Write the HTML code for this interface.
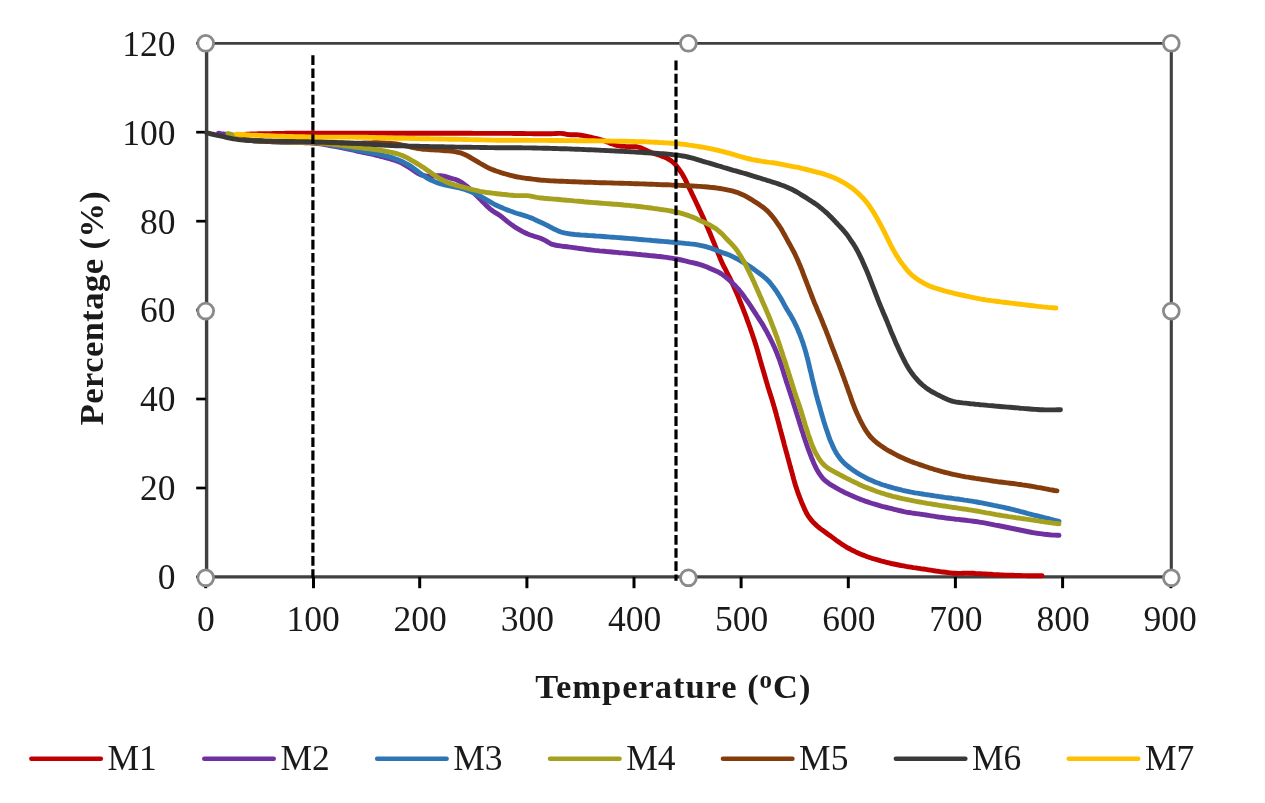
<!DOCTYPE html>
<html><head><meta charset="utf-8"><title>TGA</title>
<style>
html,body{margin:0;padding:0;background:#fff;}
body{width:1265px;height:803px;position:relative;overflow:hidden;font-family:"Liberation Serif",serif;color:#1a1a1a;}
#txt{position:absolute;left:0;top:0;width:1265px;height:803px;opacity:0.999;will-change:opacity;}
.yl{position:absolute;left:75.5px;width:100px;text-align:right;font-size:35.5px;line-height:40px;height:40px;white-space:nowrap;}
.xl{position:absolute;top:599px;width:100px;text-align:center;font-size:35.5px;line-height:40px;height:40px;white-space:nowrap;}
.lg{position:absolute;top:738.3px;font-size:35.5px;line-height:40px;height:40px;white-space:nowrap;}
.xt{position:absolute;left:473.3px;width:400px;top:666px;text-align:center;font-weight:bold;font-size:34.5px;line-height:40px;white-space:nowrap;letter-spacing:0.97px;}
.yt{position:absolute;left:-109px;top:288px;width:400px;height:40px;text-align:center;font-weight:bold;font-size:34.5px;line-height:40px;white-space:nowrap;transform:rotate(-90deg);transform-origin:50% 50%;letter-spacing:0.45px;}
sup.o{font-size:0.72em;vertical-align:baseline;position:relative;top:-0.42em;}
</style></head><body>
<svg width="1265" height="803" viewBox="0 0 1265 803" style="position:absolute;left:0;top:0">
<line x1="205.7" y1="43.4" x2="1171.3" y2="43.4" stroke="#404040" stroke-width="2.9"/>
<line x1="1171.3" y1="43.4" x2="1171.3" y2="576.9" stroke="#404040" stroke-width="3.1"/>
<line x1="206.6" y1="43.4" x2="206.6" y2="578.4" stroke="#404040" stroke-width="3.4"/>
<line x1="205.7" y1="576.8" x2="1171.3" y2="576.8" stroke="#404040" stroke-width="3.2"/>
<line x1="196.2" y1="576.9" x2="205.7" y2="576.9" stroke="#000" stroke-width="2.7"/>
<line x1="196.2" y1="488.0" x2="205.7" y2="488.0" stroke="#000" stroke-width="2.7"/>
<line x1="196.2" y1="399.0" x2="205.7" y2="399.0" stroke="#000" stroke-width="2.7"/>
<line x1="196.2" y1="310.1" x2="205.7" y2="310.1" stroke="#000" stroke-width="2.7"/>
<line x1="196.2" y1="221.2" x2="205.7" y2="221.2" stroke="#000" stroke-width="2.7"/>
<line x1="196.2" y1="132.2" x2="205.7" y2="132.2" stroke="#000" stroke-width="2.7"/>
<line x1="196.2" y1="43.3" x2="205.7" y2="43.3" stroke="#000" stroke-width="2.7"/>
<line x1="205.7" y1="576.9" x2="205.7" y2="588.2" stroke="#000" stroke-width="3"/>
<line x1="313.5" y1="576.9" x2="313.5" y2="588.2" stroke="#000" stroke-width="3"/>
<line x1="419.7" y1="576.9" x2="419.7" y2="588.2" stroke="#000" stroke-width="3"/>
<line x1="526.9" y1="576.9" x2="526.9" y2="588.2" stroke="#000" stroke-width="3"/>
<line x1="634.0" y1="576.9" x2="634.0" y2="588.2" stroke="#000" stroke-width="3"/>
<line x1="741.1" y1="576.9" x2="741.1" y2="588.2" stroke="#000" stroke-width="3"/>
<line x1="848.3" y1="576.9" x2="848.3" y2="588.2" stroke="#000" stroke-width="3"/>
<line x1="955.4" y1="576.9" x2="955.4" y2="588.2" stroke="#000" stroke-width="3"/>
<line x1="1062.6" y1="576.9" x2="1062.6" y2="588.2" stroke="#000" stroke-width="3"/>
<line x1="1170.9" y1="576.9" x2="1170.9" y2="588.2" stroke="#000" stroke-width="3"/>
<path d="M246.0 134.2L248.5 134.1L251.0 134.0L253.5 133.9L256.0 133.9L258.5 133.8L261.0 133.7L263.5 133.7L266.0 133.6L268.5 133.6L271.0 133.6L273.5 133.5L276.0 133.5L278.5 133.4L281.0 133.4L283.5 133.4L286.0 133.3L288.5 133.3L291.0 133.3L293.5 133.3L296.0 133.3L298.5 133.3L301.0 133.3L303.5 133.3L306.0 133.3L308.5 133.3L311.0 133.3L313.5 133.3L316.0 133.3L318.5 133.3L321.0 133.3L323.5 133.3L326.0 133.3L328.5 133.3L331.0 133.3L333.5 133.3L336.0 133.3L338.5 133.3L341.0 133.3L343.5 133.3L346.0 133.3L348.5 133.3L351.0 133.3L353.5 133.3L356.0 133.3L358.5 133.3L361.0 133.3L363.5 133.3L366.0 133.3L368.5 133.3L371.0 133.3L373.5 133.3L376.0 133.3L378.5 133.3L381.0 133.3L383.5 133.3L386.0 133.3L388.5 133.3L391.0 133.3L393.5 133.3L396.0 133.3L398.5 133.3L401.0 133.3L403.5 133.3L406.0 133.3L408.6 133.3L411.1 133.3L413.6 133.3L416.1 133.3L418.6 133.3L421.1 133.3L423.6 133.3L426.1 133.3L428.6 133.3L431.1 133.3L433.6 133.3L436.1 133.3L438.6 133.3L441.1 133.3L443.6 133.3L446.1 133.3L448.6 133.3L451.1 133.3L453.6 133.3L456.1 133.3L458.6 133.3L461.1 133.3L463.6 133.3L466.1 133.3L468.6 133.3L471.1 133.3L473.6 133.4L476.1 133.4L478.6 133.4L481.1 133.4L483.6 133.4L486.1 133.4L488.6 133.4L491.1 133.4L493.6 133.4L496.1 133.4L498.6 133.4L501.1 133.4L503.6 133.4L506.1 133.4L508.6 133.4L511.1 133.4L513.6 133.5L516.1 133.5L518.6 133.5L521.1 133.5L523.6 133.5L526.1 133.6L528.6 133.6L531.1 133.6L533.6 133.7L536.1 133.7L538.6 133.7L541.1 133.7L543.6 133.7L546.1 133.7L548.6 133.7L551.1 133.7L553.6 133.6L556.1 133.5L558.6 133.4L561.1 133.4L563.6 133.7L566.0 134.2L568.5 134.5L571.0 134.7L573.5 134.8L576.0 134.8L578.5 134.9L580.9 135.2L583.4 135.6L585.8 136.1L588.3 136.7L590.7 137.2L593.2 137.8L595.6 138.4L598.0 139.0L600.4 139.6L602.8 140.3L605.2 141.2L607.5 142.1L609.8 143.1L612.1 144.0L614.5 144.8L616.9 145.5L619.3 145.9L621.8 146.2L624.3 146.4L626.8 146.6L629.3 146.7L631.8 146.7L634.3 146.7L636.8 146.8L639.2 147.3L641.6 148.1L643.8 149.2L646.1 150.3L648.3 151.3L650.7 152.3L653.0 153.1L655.4 153.9L657.8 154.7L660.1 155.5L662.5 156.4L664.8 157.3L667.1 158.3L669.2 159.5L671.3 160.9L673.2 162.5L675.0 164.2L676.7 166.1L678.2 168.1L679.6 170.1L681.0 172.2L682.4 174.3L683.6 176.5L684.8 178.7L685.9 180.9L687.0 183.2L688.1 185.4L689.1 187.7L690.2 190.0L691.3 192.2L692.3 194.5L693.4 196.7L694.5 199.0L695.6 201.3L696.6 203.5L697.7 205.8L698.8 208.1L699.8 210.3L700.9 212.6L701.9 214.9L703.0 217.1L704.0 219.4L705.0 221.7L706.0 224.0L707.0 226.3L708.0 228.6L709.0 230.9L710.0 233.2L710.9 235.5L711.9 237.8L712.8 240.1L713.8 242.4L714.7 244.7L715.7 247.1L716.6 249.4L717.5 251.7L718.4 254.0L719.4 256.3L720.3 258.7L721.3 261.0L722.3 263.3L723.3 265.5L724.5 267.7L725.7 269.9L726.8 272.2L727.9 274.4L729.1 276.6L730.2 278.9L731.3 281.1L732.3 283.4L733.4 285.7L734.4 287.9L735.4 290.2L736.4 292.5L737.4 294.8L738.4 297.1L739.3 299.4L740.2 301.8L741.2 304.1L742.1 306.4L743.0 308.7L743.9 311.1L744.8 313.4L745.7 315.7L746.6 318.1L747.4 320.4L748.3 322.8L749.1 325.1L750.0 327.5L750.8 329.9L751.6 332.2L752.4 334.6L753.2 337.0L754.0 339.3L754.8 341.7L755.5 344.1L756.3 346.5L757.0 348.9L757.7 351.3L758.4 353.7L759.1 356.1L759.7 358.5L760.4 360.9L761.1 363.3L761.8 365.7L762.5 368.1L763.2 370.5L763.9 372.9L764.6 375.3L765.3 377.7L766.0 380.1L766.7 382.5L767.4 384.9L768.1 387.3L768.9 389.7L769.6 392.1L770.4 394.5L771.1 396.9L771.9 399.2L772.6 401.6L773.3 404.0L774.0 406.4L774.7 408.8L775.4 411.2L776.1 413.6L776.7 416.1L777.4 418.5L778.0 420.9L778.7 423.3L779.3 425.7L779.9 428.1L780.6 430.6L781.2 433.0L781.9 435.4L782.5 437.8L783.2 440.2L783.8 442.6L784.4 445.1L785.1 447.5L785.7 449.9L786.4 452.3L787.1 454.7L787.7 457.1L788.4 459.5L789.0 462.0L789.7 464.4L790.3 466.8L791.0 469.2L791.7 471.6L792.3 474.0L793.0 476.4L793.6 478.9L794.3 481.3L795.0 483.7L795.7 486.1L796.5 488.4L797.3 490.8L798.1 493.2L799.0 495.5L799.9 497.8L800.8 500.2L801.7 502.5L802.7 504.8L803.7 507.1L804.7 509.4L805.8 511.6L806.9 513.8L808.2 516.0L809.7 518.0L811.2 520.0L812.9 521.9L814.6 523.6L816.4 525.3L818.3 527.0L820.3 528.6L822.3 530.1L824.3 531.5L826.3 533.0L828.3 534.5L830.4 535.9L832.4 537.4L834.4 538.9L836.4 540.4L838.4 541.8L840.5 543.3L842.6 544.7L844.7 546.0L846.8 547.3L849.0 548.5L851.2 549.7L853.4 550.8L855.7 551.9L858.0 552.9L860.3 553.9L862.6 554.9L864.9 555.8L867.3 556.7L869.6 557.5L872.0 558.3L874.4 559.0L876.8 559.7L879.2 560.4L881.6 561.1L884.0 561.7L886.4 562.3L888.9 562.9L891.3 563.5L893.7 564.0L896.2 564.5L898.6 565.0L901.1 565.5L903.6 565.9L906.0 566.4L908.5 566.8L911.0 567.2L913.4 567.6L915.9 567.9L918.4 568.3L920.9 568.7L923.3 569.0L925.8 569.4L928.3 569.8L930.7 570.2L933.2 570.6L935.7 571.0L938.2 571.3L940.6 571.7L943.1 572.0L945.6 572.3L948.1 572.6L950.6 572.9L953.0 573.2L955.5 573.3L958.0 573.4L960.5 573.4L963.0 573.2L965.5 573.1L968.0 573.1L970.5 573.2L973.0 573.3L975.5 573.5L978.0 573.6L980.5 573.7L983.0 573.9L985.5 574.0L988.0 574.2L990.5 574.3L993.0 574.5L995.5 574.6L998.0 574.7L1000.5 574.9L1003.0 575.0L1005.5 575.1L1008.0 575.2L1010.5 575.3L1013.0 575.3L1015.5 575.4L1018.0 575.5L1020.5 575.5L1023.0 575.6L1025.5 575.6L1028.0 575.7L1030.5 575.7L1033.0 575.7L1035.5 575.8L1038.0 575.8L1040.5 575.8L1042.0 575.8" fill="none" stroke="#C00000" stroke-width="4.9" stroke-linecap="round" stroke-linejoin="round"/>
<path d="M218.5 133.2L221.0 133.6L223.4 133.9L225.9 134.4L228.3 135.0L230.7 135.7L233.1 136.4L235.5 137.1L237.9 137.8L240.4 138.4L242.8 139.0L245.2 139.5L247.7 139.9L250.2 140.2L252.7 140.5L255.2 140.7L257.7 140.9L260.2 141.0L262.6 141.2L265.1 141.4L267.6 141.5L270.1 141.6L272.6 141.7L275.1 141.9L277.6 142.0L280.1 142.0L282.6 142.1L285.1 142.2L287.6 142.2L290.1 142.3L292.6 142.3L295.1 142.4L297.6 142.5L300.1 142.5L302.6 142.6L305.1 142.7L307.6 142.7L310.1 142.9L312.6 143.0L315.1 143.2L317.6 143.5L320.1 143.8L322.6 144.2L325.0 144.7L327.5 145.1L329.9 145.6L332.4 146.0L334.9 146.4L337.3 146.9L339.8 147.4L342.2 147.8L344.7 148.3L347.1 148.8L349.6 149.4L352.0 149.9L354.5 150.4L356.9 151.0L359.4 151.5L361.8 152.0L364.2 152.6L366.7 153.1L369.1 153.7L371.6 154.2L374.0 154.7L376.4 155.3L378.9 155.9L381.3 156.5L383.7 157.2L386.1 157.8L388.5 158.4L391.0 159.1L393.3 159.8L395.7 160.6L398.1 161.5L400.4 162.4L402.6 163.6L404.8 164.8L406.9 166.1L409.1 167.4L411.1 168.8L413.2 170.2L415.2 171.6L417.3 173.0L419.5 174.2L421.8 175.1L424.2 175.7L426.7 176.1L429.2 176.2L431.7 176.2L434.2 176.0L436.7 175.8L439.2 175.7L441.6 175.8L444.1 176.2L446.5 176.9L448.9 177.6L451.3 178.3L453.7 179.0L456.1 179.7L458.4 180.6L460.6 181.8L462.7 183.1L464.7 184.6L466.7 186.1L468.6 187.8L470.4 189.5L472.2 191.2L474.0 193.0L475.7 194.8L477.5 196.6L479.2 198.3L481.0 200.1L482.8 201.9L484.5 203.6L486.3 205.4L488.1 207.1L490.0 208.8L491.9 210.4L494.0 211.8L496.1 213.1L498.2 214.4L500.3 215.8L502.3 217.3L504.2 218.9L506.1 220.5L508.1 222.1L510.1 223.6L512.1 225.1L514.1 226.5L516.2 227.9L518.4 229.2L520.5 230.4L522.7 231.6L525.0 232.7L527.2 233.8L529.6 234.7L531.9 235.5L534.3 236.3L536.7 237.0L539.1 237.8L541.4 238.6L543.7 239.7L545.9 240.9L548.0 242.2L550.2 243.4L552.4 244.4L554.9 245.0L557.3 245.5L559.8 245.8L562.3 246.2L564.7 246.5L567.2 246.8L569.7 247.1L572.2 247.4L574.7 247.8L577.1 248.1L579.6 248.5L582.1 248.8L584.6 249.1L587.1 249.5L589.5 249.8L592.0 250.1L594.5 250.4L597.0 250.6L599.5 250.9L602.0 251.1L604.5 251.3L607.0 251.6L609.4 251.8L611.9 252.0L614.4 252.2L616.9 252.4L619.4 252.7L621.9 252.9L624.4 253.1L626.9 253.3L629.4 253.6L631.9 253.8L634.4 254.0L636.8 254.3L639.3 254.5L641.8 254.8L644.3 255.0L646.8 255.2L649.3 255.5L651.8 255.7L654.3 256.0L656.8 256.3L659.2 256.5L661.7 256.8L664.2 257.1L666.7 257.4L669.2 257.8L671.6 258.2L674.1 258.6L676.6 259.0L679.0 259.5L681.5 260.0L683.9 260.6L686.3 261.2L688.8 261.8L691.2 262.3L693.6 262.9L696.1 263.5L698.5 264.1L700.9 264.8L703.2 265.6L705.6 266.5L707.9 267.4L710.2 268.4L712.5 269.4L714.8 270.4L717.1 271.4L719.3 272.6L721.4 273.9L723.4 275.4L725.4 276.9L727.4 278.5L729.3 280.1L731.1 281.8L732.9 283.5L734.7 285.2L736.4 287.1L738.1 288.9L739.7 290.9L741.3 292.8L742.8 294.8L744.3 296.8L745.7 298.8L747.2 300.9L748.6 302.9L750.0 305.0L751.4 307.1L752.7 309.2L754.1 311.3L755.5 313.4L756.8 315.5L758.2 317.6L759.5 319.7L760.9 321.8L762.2 323.9L763.5 326.1L764.7 328.2L766.0 330.4L767.2 332.6L768.3 334.8L769.5 337.0L770.6 339.3L771.7 341.5L772.8 343.8L773.8 346.0L774.9 348.3L775.8 350.6L776.8 352.9L777.7 355.3L778.6 357.6L779.5 359.9L780.3 362.3L781.1 364.7L781.9 367.0L782.6 369.4L783.4 371.8L784.1 374.2L784.8 376.6L785.6 379.0L786.3 381.4L787.1 383.7L787.9 386.1L788.7 388.5L789.5 390.9L790.3 393.2L791.0 395.6L791.8 398.0L792.6 400.4L793.3 402.8L794.1 405.2L794.8 407.5L795.6 409.9L796.3 412.3L797.1 414.7L797.8 417.1L798.6 419.5L799.3 421.9L800.0 424.3L800.8 426.6L801.5 429.0L802.3 431.4L803.1 433.8L803.8 436.2L804.6 438.5L805.4 440.9L806.2 443.3L807.0 445.7L807.8 448.0L808.7 450.4L809.6 452.7L810.5 455.0L811.4 457.4L812.4 459.7L813.3 462.0L814.3 464.3L815.4 466.6L816.5 468.8L817.7 471.0L819.0 473.1L820.4 475.2L821.8 477.2L823.5 479.1L825.3 480.8L827.3 482.3L829.3 483.8L831.4 485.1L833.6 486.4L835.7 487.7L837.9 488.9L840.1 490.1L842.3 491.2L844.5 492.4L846.8 493.4L849.1 494.5L851.4 495.5L853.6 496.5L855.9 497.5L858.3 498.5L860.6 499.4L862.9 500.2L865.3 501.1L867.6 501.9L870.0 502.7L872.4 503.5L874.8 504.2L877.2 504.9L879.6 505.6L882.0 506.3L884.4 506.9L886.8 507.5L889.3 508.1L891.7 508.7L894.1 509.3L896.6 509.9L899.0 510.5L901.4 511.0L903.9 511.6L906.3 512.1L908.8 512.5L911.3 512.9L913.7 513.3L916.2 513.6L918.7 513.9L921.2 514.3L923.6 514.6L926.1 515.0L928.6 515.4L931.0 515.8L933.5 516.2L936.0 516.6L938.5 517.0L940.9 517.3L943.4 517.6L945.9 518.0L948.4 518.3L950.9 518.6L953.3 518.9L955.8 519.2L958.3 519.4L960.8 519.7L963.3 520.0L965.8 520.3L968.3 520.6L970.7 520.9L973.2 521.2L975.7 521.5L978.2 521.9L980.6 522.3L983.1 522.7L985.6 523.1L988.0 523.6L990.5 524.1L992.9 524.6L995.4 525.1L997.8 525.5L1000.3 526.0L1002.7 526.5L1005.2 527.0L1007.6 527.5L1010.1 528.0L1012.5 528.5L1015.0 529.0L1017.4 529.5L1019.9 530.0L1022.3 530.5L1024.8 531.0L1027.2 531.5L1029.7 532.0L1032.2 532.5L1034.6 532.9L1037.1 533.3L1039.6 533.6L1042.1 533.9L1044.5 534.3L1047.0 534.5L1049.5 534.8L1052.0 535.0L1054.5 535.1L1057.0 535.2L1059.0 535.3" fill="none" stroke="#7030A0" stroke-width="4.9" stroke-linecap="round" stroke-linejoin="round"/>
<path d="M230.0 135.0L232.3 136.0L234.6 136.9L237.0 137.7L239.4 138.4L241.8 139.0L244.3 139.5L246.7 139.9L249.2 140.2L251.7 140.4L254.2 140.7L256.7 140.8L259.2 141.0L261.7 141.1L264.2 141.3L266.7 141.4L269.2 141.5L271.7 141.6L274.2 141.7L276.7 141.8L279.2 141.9L281.7 142.0L284.2 142.0L286.7 142.1L289.2 142.2L291.7 142.2L294.2 142.3L296.7 142.3L299.2 142.4L301.7 142.4L304.2 142.5L306.7 142.6L309.2 142.6L311.7 142.8L314.2 142.9L316.7 143.1L319.2 143.2L321.6 143.5L324.1 143.8L326.6 144.2L329.1 144.6L331.5 145.1L334.0 145.5L336.4 146.0L338.9 146.4L341.4 146.9L343.8 147.4L346.3 147.9L348.7 148.4L351.2 148.9L353.6 149.4L356.1 149.9L358.5 150.4L361.0 150.9L363.4 151.4L365.9 151.8L368.3 152.3L370.8 152.8L373.2 153.3L375.7 153.7L378.1 154.2L380.6 154.8L383.0 155.3L385.5 155.9L387.9 156.5L390.3 157.1L392.7 157.9L395.0 158.7L397.4 159.6L399.7 160.5L402.0 161.5L404.2 162.6L406.4 163.8L408.6 165.0L410.7 166.4L412.8 167.8L414.8 169.3L416.8 170.8L418.8 172.3L420.8 173.7L422.9 175.2L424.9 176.6L427.0 178.0L429.2 179.2L431.4 180.3L433.7 181.3L436.0 182.2L438.4 183.1L440.8 183.8L443.2 184.5L445.6 185.0L448.1 185.6L450.5 186.1L453.0 186.6L455.4 187.2L457.8 187.7L460.3 188.2L462.7 188.8L465.1 189.5L467.5 190.4L469.8 191.3L472.1 192.3L474.4 193.3L476.6 194.4L478.8 195.5L481.1 196.7L483.2 197.9L485.4 199.1L487.6 200.4L489.8 201.6L491.9 202.9L494.1 204.1L496.3 205.2L498.6 206.3L500.9 207.3L503.2 208.3L505.5 209.2L507.8 210.1L510.2 211.0L512.5 211.8L514.9 212.7L517.3 213.5L519.7 214.2L522.1 214.9L524.5 215.6L526.8 216.3L529.2 217.2L531.5 218.1L533.8 219.1L536.1 220.2L538.3 221.2L540.6 222.3L542.9 223.3L545.1 224.4L547.4 225.5L549.6 226.7L551.8 227.8L554.0 229.0L556.3 230.0L558.6 231.1L560.9 232.0L563.3 232.7L565.7 233.2L568.2 233.6L570.7 234.0L573.1 234.3L575.6 234.6L578.1 234.8L580.6 235.0L583.1 235.1L585.6 235.3L588.1 235.5L590.6 235.6L593.1 235.8L595.6 236.0L598.1 236.1L600.6 236.3L603.1 236.5L605.6 236.7L608.1 236.9L610.5 237.1L613.0 237.2L615.5 237.4L618.0 237.6L620.5 237.8L623.0 238.0L625.5 238.2L628.0 238.4L630.5 238.6L633.0 238.8L635.5 239.0L638.0 239.3L640.5 239.5L643.0 239.7L645.4 239.9L647.9 240.1L650.4 240.3L652.9 240.6L655.4 240.8L657.9 241.0L660.4 241.2L662.9 241.4L665.4 241.6L667.9 241.8L670.4 242.1L672.8 242.3L675.3 242.5L677.8 242.7L680.3 242.9L682.8 243.1L685.3 243.4L687.8 243.6L690.3 243.9L692.8 244.1L695.2 244.4L697.7 244.8L700.2 245.3L702.6 245.8L705.0 246.4L707.5 247.1L709.8 247.8L712.2 248.6L714.5 249.5L716.9 250.4L719.2 251.4L721.5 252.2L723.9 253.1L726.2 253.9L728.6 254.8L730.9 255.8L733.1 256.9L735.4 258.0L737.6 259.1L739.8 260.3L741.9 261.6L744.1 262.9L746.2 264.2L748.3 265.5L750.4 266.9L752.5 268.3L754.5 269.8L756.5 271.2L758.6 272.7L760.6 274.2L762.5 275.7L764.5 277.3L766.4 278.9L768.2 280.7L769.8 282.5L771.4 284.5L772.9 286.4L774.4 288.5L775.9 290.5L777.3 292.6L778.6 294.7L779.9 296.8L781.2 299.0L782.4 301.2L783.6 303.4L784.8 305.6L786.0 307.7L787.3 309.9L788.6 312.0L789.9 314.1L791.2 316.3L792.4 318.5L793.6 320.7L794.7 322.9L795.8 325.1L796.9 327.4L797.9 329.7L798.8 332.0L799.8 334.3L800.7 336.7L801.5 339.0L802.4 341.4L803.2 343.7L803.9 346.1L804.7 348.5L805.4 350.9L806.1 353.3L806.7 355.7L807.4 358.1L808.0 360.6L808.6 363.0L809.1 365.4L809.7 367.9L810.3 370.3L810.9 372.7L811.5 375.2L812.0 377.6L812.6 380.0L813.2 382.4L813.8 384.9L814.4 387.3L815.0 389.7L815.6 392.2L816.2 394.6L816.9 397.0L817.5 399.4L818.2 401.8L818.9 404.2L819.6 406.6L820.3 409.0L820.9 411.4L821.6 413.8L822.3 416.2L823.0 418.6L823.7 421.0L824.5 423.4L825.2 425.8L826.0 428.2L826.8 430.6L827.6 432.9L828.4 435.3L829.2 437.7L830.1 440.0L831.1 442.3L832.1 444.6L833.1 446.9L834.2 449.1L835.4 451.3L836.6 453.5L838.0 455.6L839.4 457.7L841.0 459.6L842.6 461.5L844.4 463.2L846.2 464.9L848.2 466.5L850.1 468.0L852.2 469.5L854.2 470.9L856.3 472.3L858.4 473.6L860.6 474.9L862.8 476.1L865.0 477.3L867.2 478.5L869.4 479.6L871.7 480.6L874.0 481.6L876.3 482.5L878.7 483.3L881.0 484.2L883.4 485.0L885.8 485.7L888.2 486.5L890.6 487.1L893.0 487.8L895.4 488.5L897.8 489.1L900.3 489.7L902.7 490.3L905.1 490.8L907.6 491.3L910.0 491.9L912.5 492.3L914.9 492.8L917.4 493.2L919.9 493.6L922.3 494.0L924.8 494.4L927.3 494.7L929.8 495.1L932.2 495.5L934.7 495.9L937.2 496.2L939.6 496.6L942.1 497.0L944.6 497.4L947.1 497.7L949.5 498.0L952.0 498.3L954.5 498.7L957.0 499.0L959.5 499.3L961.9 499.7L964.4 500.1L966.9 500.4L969.4 500.8L971.8 501.2L974.3 501.6L976.8 502.0L979.2 502.5L981.7 502.9L984.1 503.4L986.6 503.9L989.0 504.4L991.5 504.9L993.9 505.4L996.4 505.8L998.8 506.4L1001.3 506.9L1003.7 507.4L1006.2 508.0L1008.6 508.5L1011.0 509.1L1013.5 509.7L1015.9 510.3L1018.3 510.9L1020.7 511.6L1023.1 512.2L1025.6 512.9L1028.0 513.6L1030.4 514.2L1032.8 514.8L1035.2 515.4L1037.7 516.0L1040.1 516.6L1042.5 517.2L1044.9 517.8L1047.4 518.4L1049.8 519.0L1052.2 519.7L1054.6 520.3L1057.1 520.9L1059.0 521.4" fill="none" stroke="#2E75B6" stroke-width="4.9" stroke-linecap="round" stroke-linejoin="round"/>
<path d="M228.0 133.6L230.4 134.2L232.8 134.9L235.2 135.7L237.6 136.5L239.9 137.4L242.3 138.2L244.7 138.9L247.1 139.4L249.6 139.9L252.0 140.3L254.5 140.6L257.0 140.9L259.5 141.1L262.0 141.3L264.5 141.5L267.0 141.6L269.5 141.6L272.0 141.7L274.5 141.8L277.0 141.8L279.5 141.9L282.0 141.9L284.5 142.0L287.0 142.1L289.5 142.1L292.0 142.2L294.5 142.2L297.0 142.3L299.5 142.3L302.0 142.4L304.5 142.4L307.0 142.5L309.5 142.6L311.9 142.7L314.4 142.8L316.9 142.9L319.4 143.0L321.9 143.2L324.4 143.4L326.9 143.7L329.4 143.9L331.9 144.2L334.4 144.5L336.9 144.8L339.3 145.1L341.8 145.4L344.3 145.7L346.8 146.0L349.3 146.3L351.7 146.6L354.2 147.0L356.7 147.3L359.2 147.6L361.7 147.9L364.1 148.2L366.6 148.5L369.1 148.8L371.6 149.1L374.1 149.5L376.5 149.8L379.0 150.1L381.5 150.5L384.0 150.9L386.4 151.3L388.9 151.8L391.3 152.3L393.8 152.9L396.2 153.5L398.6 154.2L400.9 155.0L403.3 155.9L405.5 156.9L407.8 158.1L409.9 159.3L412.1 160.6L414.3 161.8L416.4 163.1L418.5 164.4L420.6 165.8L422.8 167.1L424.8 168.5L426.9 169.9L428.9 171.3L431.0 172.8L433.0 174.2L435.1 175.6L437.2 177.0L439.3 178.3L441.5 179.5L443.7 180.6L446.0 181.7L448.3 182.7L450.6 183.6L453.0 184.4L455.4 185.2L457.8 185.8L460.2 186.4L462.6 187.0L465.0 187.7L467.5 188.3L469.9 189.0L472.3 189.6L474.7 190.2L477.2 190.7L479.6 191.3L482.1 191.7L484.5 192.1L487.0 192.5L489.5 192.8L492.0 193.1L494.4 193.4L496.9 193.7L499.4 194.0L501.9 194.3L504.4 194.5L506.9 194.8L509.4 195.1L511.8 195.3L514.3 195.5L516.8 195.6L519.3 195.6L521.8 195.6L524.3 195.6L526.8 195.6L529.3 195.9L531.8 196.3L534.2 196.8L536.7 197.3L539.1 197.7L541.6 198.0L544.1 198.3L546.6 198.5L549.1 198.7L551.6 198.9L554.1 199.1L556.5 199.3L559.0 199.5L561.5 199.8L564.0 200.0L566.5 200.2L569.0 200.4L571.5 200.6L574.0 200.9L576.5 201.1L579.0 201.3L581.5 201.5L583.9 201.8L586.4 202.0L588.9 202.2L591.4 202.4L593.9 202.6L596.4 202.8L598.9 203.0L601.4 203.2L603.9 203.4L606.4 203.6L608.9 203.8L611.4 204.0L613.9 204.2L616.3 204.3L618.8 204.5L621.3 204.7L623.8 205.0L626.3 205.2L628.8 205.4L631.3 205.7L633.8 205.9L636.3 206.2L638.7 206.5L641.2 206.8L643.7 207.1L646.2 207.4L648.7 207.7L651.1 208.0L653.6 208.4L656.1 208.7L658.6 209.1L661.0 209.5L663.5 209.8L666.0 210.2L668.5 210.6L670.9 211.0L673.4 211.5L675.8 212.0L678.3 212.5L680.7 213.1L683.1 213.8L685.5 214.6L687.9 215.4L690.2 216.2L692.5 217.1L694.8 218.1L697.1 219.1L699.4 220.2L701.6 221.2L703.9 222.3L706.2 223.3L708.5 224.4L710.7 225.5L712.8 226.8L714.9 228.1L717.0 229.6L718.9 231.1L720.8 232.8L722.6 234.5L724.3 236.4L726.0 238.2L727.7 240.0L729.4 241.8L731.2 243.6L732.9 245.4L734.6 247.3L736.1 249.2L737.6 251.3L738.9 253.4L740.3 255.5L741.6 257.6L742.8 259.8L744.1 261.9L745.2 264.1L746.4 266.4L747.5 268.6L748.6 270.8L749.7 273.1L750.8 275.3L751.9 277.6L752.9 279.9L754.0 282.1L755.0 284.4L756.0 286.7L757.0 289.0L758.0 291.3L759.0 293.6L760.0 295.9L761.0 298.1L762.0 300.4L763.0 302.7L764.0 305.0L765.0 307.3L766.0 309.6L767.0 311.9L768.0 314.2L768.9 316.5L769.9 318.8L770.8 321.2L771.7 323.5L772.6 325.8L773.5 328.2L774.4 330.5L775.3 332.8L776.1 335.2L777.0 337.5L777.8 339.9L778.6 342.3L779.4 344.6L780.2 347.0L781.0 349.4L781.8 351.7L782.6 354.1L783.3 356.5L784.1 358.9L784.9 361.3L785.7 363.6L786.4 366.0L787.2 368.4L788.0 370.8L788.7 373.2L789.5 375.5L790.2 377.9L791.0 380.3L791.7 382.7L792.5 385.1L793.2 387.5L794.0 389.9L794.7 392.2L795.5 394.6L796.3 397.0L797.1 399.3L797.9 401.7L798.7 404.1L799.5 406.4L800.3 408.8L801.1 411.2L801.8 413.6L802.6 416.0L803.3 418.4L804.0 420.8L804.7 423.2L805.4 425.5L806.2 427.9L807.0 430.3L807.7 432.7L808.5 435.1L809.4 437.4L810.2 439.8L811.0 442.1L811.9 444.5L812.8 446.8L813.8 449.1L814.8 451.4L816.0 453.6L817.3 455.7L818.5 457.9L819.9 460.0L821.4 462.0L823.0 463.9L824.8 465.6L826.7 467.2L828.7 468.6L830.9 469.9L833.1 471.1L835.3 472.3L837.5 473.5L839.7 474.7L841.9 475.8L844.1 477.0L846.3 478.1L848.6 479.2L850.8 480.4L853.1 481.5L855.3 482.6L857.6 483.6L859.8 484.7L862.1 485.7L864.4 486.7L866.7 487.6L869.1 488.5L871.4 489.4L873.7 490.3L876.1 491.2L878.4 492.0L880.8 492.8L883.2 493.5L885.6 494.3L888.0 495.0L890.4 495.6L892.8 496.3L895.2 496.9L897.7 497.5L900.1 498.1L902.5 498.7L905.0 499.2L907.4 499.7L909.9 500.2L912.3 500.7L914.8 501.2L917.2 501.6L919.7 502.0L922.2 502.4L924.6 502.8L927.1 503.3L929.6 503.7L932.0 504.1L934.5 504.5L937.0 504.9L939.4 505.3L941.9 505.7L944.4 506.0L946.8 506.4L949.3 506.8L951.8 507.2L954.3 507.5L956.7 507.9L959.2 508.3L961.7 508.7L964.2 509.0L966.6 509.4L969.1 509.8L971.6 510.2L974.0 510.6L976.5 511.0L979.0 511.4L981.4 511.9L983.9 512.3L986.3 512.8L988.8 513.2L991.3 513.7L993.7 514.1L996.2 514.6L998.6 515.0L1001.1 515.4L1003.6 515.8L1006.0 516.2L1008.5 516.6L1011.0 516.9L1013.5 517.3L1015.9 517.7L1018.4 518.0L1020.9 518.4L1023.4 518.7L1025.8 519.1L1028.3 519.4L1030.8 519.8L1033.3 520.2L1035.7 520.6L1038.2 520.9L1040.7 521.3L1043.1 521.7L1045.6 522.1L1048.1 522.4L1050.6 522.7L1053.0 523.1L1055.5 523.4L1058.0 523.7L1059.0 523.8" fill="none" stroke="#A5A01E" stroke-width="4.9" stroke-linecap="round" stroke-linejoin="round"/>
<path d="M244.0 139.6L246.5 139.9L249.0 140.1L251.5 140.4L253.9 140.7L256.4 140.9L258.9 141.1L261.4 141.3L263.9 141.4L266.4 141.5L268.9 141.5L271.4 141.5L273.9 141.6L276.4 141.6L278.9 141.6L281.4 141.7L283.9 141.7L286.4 141.7L288.9 141.8L291.4 141.8L293.9 141.8L296.4 141.8L298.9 141.9L301.4 141.9L303.9 141.9L306.4 142.0L308.9 142.0L311.4 142.1L313.9 142.1L316.4 142.2L318.9 142.3L321.4 142.3L323.9 142.4L326.4 142.5L328.9 142.6L331.4 142.7L333.9 142.8L336.4 142.9L338.9 142.9L341.4 143.0L343.9 143.1L346.4 143.1L348.9 143.2L351.4 143.2L353.9 143.2L356.4 143.2L358.9 143.2L361.4 143.1L363.9 143.0L366.4 143.0L368.9 142.9L371.4 142.9L373.9 142.8L376.4 142.8L378.9 142.8L381.4 142.9L383.9 143.0L386.4 143.1L388.9 143.3L391.4 143.5L393.9 143.7L396.4 144.0L398.8 144.4L401.3 144.8L403.7 145.3L406.2 145.8L408.6 146.4L411.0 147.1L413.4 147.7L415.9 148.2L418.3 148.6L420.8 148.9L423.3 149.2L425.8 149.4L428.3 149.5L430.8 149.7L433.3 149.8L435.8 150.0L438.3 150.1L440.8 150.3L443.3 150.5L445.8 150.7L448.3 150.9L450.7 151.1L453.2 151.4L455.7 151.8L458.1 152.3L460.6 152.9L462.9 153.7L465.2 154.7L467.5 155.8L469.6 157.0L471.8 158.3L473.9 159.6L476.1 160.9L478.2 162.2L480.4 163.5L482.5 164.7L484.7 165.9L486.9 167.1L489.2 168.2L491.5 169.2L493.8 170.1L496.1 171.0L498.5 171.8L500.9 172.6L503.3 173.3L505.7 174.0L508.1 174.7L510.5 175.3L512.9 175.9L515.3 176.5L517.8 177.0L520.2 177.4L522.7 177.8L525.2 178.2L527.7 178.5L530.2 178.8L532.6 179.1L535.1 179.4L537.6 179.7L540.1 180.0L542.6 180.2L545.1 180.4L547.6 180.6L550.1 180.8L552.6 180.9L555.0 181.0L557.5 181.1L560.0 181.2L562.5 181.3L565.0 181.4L567.5 181.5L570.0 181.6L572.5 181.7L575.0 181.8L577.5 181.9L580.0 182.0L582.5 182.1L585.0 182.2L587.5 182.2L590.0 182.3L592.5 182.4L595.0 182.5L597.5 182.6L600.0 182.7L602.5 182.7L605.0 182.8L607.5 182.9L610.0 182.9L612.5 183.0L615.0 183.1L617.5 183.1L620.0 183.2L622.5 183.3L625.0 183.4L627.5 183.4L630.0 183.5L632.5 183.6L635.0 183.7L637.5 183.8L640.0 183.9L642.5 183.9L645.0 184.0L647.5 184.1L650.0 184.2L652.5 184.3L655.0 184.4L657.5 184.5L660.0 184.6L662.5 184.7L665.0 184.8L667.5 184.8L670.0 184.9L672.5 185.1L675.0 185.2L677.5 185.3L680.0 185.4L682.5 185.5L685.0 185.6L687.5 185.7L690.0 185.9L692.5 186.0L695.0 186.1L697.5 186.3L700.0 186.4L702.5 186.6L704.9 186.8L707.4 187.0L709.9 187.3L712.4 187.5L714.9 187.8L717.4 188.1L719.9 188.5L722.3 188.9L724.8 189.3L727.2 189.8L729.7 190.3L732.1 190.9L734.5 191.6L736.9 192.3L739.2 193.2L741.5 194.2L743.8 195.2L746.0 196.4L748.2 197.6L750.3 198.9L752.5 200.2L754.6 201.6L756.7 202.9L758.8 204.3L760.8 205.7L762.9 207.1L764.8 208.7L766.7 210.3L768.5 212.1L770.2 213.9L771.8 215.8L773.4 217.8L774.9 219.7L776.4 221.8L777.8 223.8L779.2 225.9L780.6 228.0L781.9 230.1L783.1 232.3L784.3 234.5L785.5 236.7L786.7 238.9L787.9 241.1L789.1 243.2L790.3 245.4L791.5 247.6L792.7 249.8L793.9 252.0L795.0 254.3L796.0 256.5L797.1 258.8L798.1 261.1L799.1 263.4L800.1 265.7L801.0 268.0L802.0 270.3L802.8 272.7L803.7 275.0L804.6 277.3L805.5 279.7L806.4 282.0L807.3 284.3L808.2 286.7L809.1 289.0L810.0 291.3L810.9 293.7L811.8 296.0L812.7 298.4L813.6 300.7L814.5 303.0L815.5 305.3L816.5 307.6L817.4 309.9L818.4 312.2L819.4 314.5L820.4 316.8L821.3 319.1L822.3 321.4L823.2 323.8L824.1 326.1L825.1 328.4L826.0 330.7L826.9 333.1L827.8 335.4L828.7 337.7L829.6 340.1L830.4 342.4L831.3 344.7L832.2 347.1L833.1 349.4L834.0 351.7L834.9 354.1L835.8 356.4L836.7 358.8L837.6 361.1L838.5 363.4L839.4 365.8L840.2 368.1L841.1 370.4L842.0 372.8L842.8 375.1L843.7 377.5L844.5 379.8L845.4 382.2L846.2 384.5L847.1 386.9L847.9 389.3L848.7 391.6L849.6 394.0L850.4 396.3L851.2 398.7L852.0 401.1L852.9 403.4L853.8 405.7L854.7 408.1L855.7 410.4L856.7 412.7L857.7 414.9L858.8 417.2L859.8 419.5L860.9 421.7L862.1 423.9L863.3 426.1L864.5 428.3L865.8 430.4L867.2 432.5L868.7 434.5L870.2 436.5L871.9 438.3L873.7 440.1L875.6 441.7L877.5 443.3L879.5 444.8L881.6 446.2L883.6 447.6L885.7 449.0L887.9 450.3L890.1 451.5L892.2 452.7L894.4 453.9L896.7 455.1L898.9 456.2L901.1 457.3L903.4 458.3L905.7 459.4L908.0 460.3L910.3 461.3L912.7 462.1L915.0 463.0L917.4 463.8L919.7 464.6L922.1 465.4L924.5 466.2L926.9 467.0L929.2 467.8L931.6 468.5L934.0 469.3L936.4 470.0L938.8 470.7L941.2 471.3L943.6 472.0L946.0 472.6L948.5 473.2L950.9 473.8L953.3 474.4L955.8 474.9L958.2 475.4L960.7 475.9L963.1 476.3L965.6 476.8L968.1 477.2L970.5 477.6L973.0 478.0L975.5 478.4L977.9 478.7L980.4 479.1L982.9 479.5L985.4 479.8L987.8 480.2L990.3 480.6L992.8 481.0L995.2 481.3L997.7 481.7L1000.2 482.0L1002.7 482.3L1005.2 482.6L1007.6 482.9L1010.1 483.2L1012.6 483.5L1015.1 483.8L1017.6 484.2L1020.1 484.5L1022.5 484.9L1025.0 485.2L1027.5 485.6L1029.9 486.0L1032.4 486.4L1034.9 486.8L1037.3 487.3L1039.8 487.7L1042.2 488.2L1044.7 488.7L1047.2 489.1L1049.6 489.6L1052.1 490.0L1054.5 490.5L1057.0 490.9" fill="none" stroke="#843C0C" stroke-width="4.9" stroke-linecap="round" stroke-linejoin="round"/>
<path d="M206.6 132.8L209.0 133.4L211.5 134.0L213.9 134.5L216.3 135.1L218.8 135.7L221.2 136.2L223.7 136.7L226.1 137.3L228.5 137.8L231.0 138.3L233.4 138.8L235.9 139.2L238.4 139.6L240.9 139.9L243.3 140.1L245.8 140.3L248.3 140.5L250.8 140.6L253.3 140.7L255.8 140.7L258.3 140.8L260.8 140.8L263.3 140.9L265.8 141.0L268.3 141.0L270.8 141.0L273.3 141.1L275.8 141.1L278.3 141.1L280.8 141.1L283.3 141.1L285.8 141.2L288.3 141.2L290.8 141.2L293.3 141.3L295.8 141.3L298.3 141.3L300.8 141.4L303.3 141.4L305.8 141.5L308.3 141.5L310.8 141.6L313.3 141.6L315.8 141.7L318.3 141.8L320.8 141.8L323.3 141.9L325.8 142.0L328.3 142.1L330.8 142.2L333.3 142.3L335.8 142.4L338.3 142.6L340.8 142.7L343.3 142.8L345.8 142.9L348.3 143.0L350.8 143.1L353.3 143.3L355.8 143.4L358.3 143.5L360.8 143.6L363.3 143.8L365.8 144.0L368.3 144.1L370.8 144.3L373.3 144.5L375.7 144.7L378.2 144.8L380.7 145.0L383.2 145.1L385.7 145.3L388.2 145.4L390.7 145.5L393.2 145.6L395.7 145.7L398.2 145.8L400.7 145.8L403.2 145.9L405.7 146.0L408.2 146.1L410.7 146.1L413.2 146.2L415.7 146.2L418.2 146.3L420.7 146.4L423.2 146.4L425.7 146.5L428.2 146.5L430.7 146.6L433.2 146.6L435.7 146.7L438.2 146.7L440.7 146.8L443.2 146.8L445.7 146.9L448.2 146.9L450.7 147.0L453.2 147.0L455.7 147.1L458.2 147.1L460.7 147.2L463.2 147.2L465.7 147.3L468.2 147.3L470.7 147.3L473.2 147.4L475.7 147.4L478.2 147.4L480.7 147.5L483.2 147.5L485.7 147.5L488.2 147.6L490.7 147.6L493.2 147.6L495.7 147.7L498.2 147.7L500.7 147.7L503.2 147.7L505.7 147.8L508.2 147.8L510.7 147.8L513.2 147.8L515.7 147.8L518.2 147.8L520.7 147.8L523.2 147.9L525.7 147.9L528.2 147.9L530.7 147.9L533.2 148.0L535.7 148.0L538.2 148.1L540.7 148.1L543.2 148.2L545.7 148.2L548.2 148.3L550.7 148.4L553.2 148.5L555.7 148.5L558.2 148.6L560.7 148.7L563.2 148.8L565.7 148.8L568.2 148.9L570.7 149.0L573.2 149.1L575.7 149.2L578.2 149.3L580.7 149.4L583.2 149.5L585.7 149.6L588.2 149.7L590.7 149.8L593.2 149.9L595.7 150.0L598.2 150.1L600.7 150.3L603.2 150.4L605.7 150.5L608.2 150.6L610.7 150.7L613.2 150.9L615.7 151.0L618.1 151.1L620.6 151.2L623.1 151.4L625.6 151.5L628.1 151.6L630.6 151.8L633.1 151.9L635.6 152.1L638.1 152.2L640.6 152.4L643.1 152.5L645.6 152.7L648.1 152.8L650.6 153.0L653.1 153.1L655.6 153.3L658.1 153.5L660.6 153.7L663.1 153.8L665.6 154.0L668.1 154.2L670.5 154.4L673.0 154.7L675.5 154.9L678.0 155.2L680.5 155.6L682.9 156.0L685.4 156.4L687.8 157.0L690.3 157.6L692.7 158.2L695.1 158.9L697.5 159.6L699.9 160.3L702.3 161.1L704.7 161.8L707.1 162.5L709.5 163.2L711.9 163.9L714.3 164.6L716.7 165.3L719.0 166.0L721.4 166.7L723.8 167.5L726.2 168.2L728.6 168.9L731.0 169.6L733.4 170.3L735.8 170.9L738.2 171.6L740.7 172.3L743.1 173.0L745.5 173.7L747.9 174.4L750.2 175.1L752.6 175.9L755.0 176.6L757.4 177.3L759.8 178.0L762.2 178.8L764.6 179.5L767.0 180.3L769.4 181.0L771.8 181.8L774.1 182.5L776.5 183.3L778.9 184.1L781.2 185.0L783.6 185.8L785.9 186.7L788.2 187.7L790.5 188.7L792.8 189.8L795.0 191.0L797.1 192.2L799.3 193.5L801.4 194.8L803.5 196.1L805.6 197.4L807.7 198.8L809.8 200.2L811.9 201.5L814.0 202.9L816.1 204.3L818.1 205.7L820.1 207.3L822.0 208.9L823.9 210.5L825.8 212.1L827.6 213.8L829.4 215.6L831.2 217.3L832.9 219.1L834.7 220.9L836.4 222.8L838.1 224.6L839.8 226.4L841.5 228.2L843.2 230.1L844.8 232.0L846.4 233.9L847.9 235.9L849.3 238.0L850.7 240.1L852.1 242.1L853.5 244.2L854.8 246.3L856.1 248.5L857.3 250.7L858.5 252.9L859.6 255.1L860.7 257.4L861.8 259.6L862.8 261.9L863.8 264.2L864.8 266.5L865.8 268.8L866.8 271.1L867.8 273.4L868.7 275.7L869.6 278.0L870.5 280.3L871.4 282.7L872.3 285.0L873.2 287.3L874.1 289.7L875.0 292.0L875.9 294.3L876.8 296.7L877.7 299.0L878.6 301.3L879.6 303.7L880.5 306.0L881.5 308.3L882.4 310.6L883.4 312.9L884.4 315.2L885.4 317.5L886.3 319.8L887.3 322.1L888.2 324.4L889.2 326.7L890.1 329.1L891.0 331.4L892.0 333.7L893.0 336.0L894.0 338.3L894.9 340.6L895.9 342.9L896.9 345.2L898.0 347.4L899.0 349.7L900.0 352.0L901.1 354.2L902.2 356.5L903.3 358.7L904.5 361.0L905.6 363.2L906.9 365.4L908.1 367.5L909.4 369.6L910.8 371.7L912.3 373.7L913.8 375.7L915.4 377.7L917.0 379.5L918.7 381.4L920.5 383.1L922.3 384.8L924.3 386.4L926.2 388.0L928.3 389.4L930.4 390.8L932.5 392.0L934.7 393.2L936.9 394.4L939.2 395.5L941.4 396.6L943.7 397.7L945.9 398.7L948.2 399.7L950.6 400.6L952.9 401.4L955.4 401.9L957.8 402.3L960.3 402.6L962.8 402.9L965.3 403.1L967.8 403.4L970.3 403.7L972.8 403.9L975.2 404.2L977.7 404.4L980.2 404.7L982.7 404.9L985.2 405.1L987.7 405.4L990.2 405.6L992.7 405.8L995.2 406.1L997.6 406.3L1000.1 406.5L1002.6 406.7L1005.1 406.9L1007.6 407.1L1010.1 407.3L1012.6 407.5L1015.1 407.7L1017.6 407.9L1020.1 408.2L1022.6 408.4L1025.0 408.6L1027.5 408.8L1030.0 409.0L1032.5 409.2L1035.0 409.4L1037.5 409.5L1040.0 409.7L1042.5 409.8L1045.0 409.9L1047.5 409.9L1050.0 409.9L1052.5 409.9L1055.0 409.9L1057.5 409.8L1060.0 409.8L1060.5 409.8" fill="none" stroke="#3B3838" stroke-width="4.9" stroke-linecap="round" stroke-linejoin="round"/>
<path d="M236.6 134.1L239.1 134.3L241.6 134.4L244.1 134.6L246.6 134.8L249.1 134.9L251.6 135.1L254.1 135.2L256.6 135.3L259.1 135.4L261.6 135.5L264.1 135.6L266.6 135.7L269.1 135.8L271.6 135.9L274.1 136.0L276.6 136.1L279.1 136.2L281.6 136.2L284.1 136.3L286.6 136.4L289.1 136.5L291.6 136.5L294.1 136.6L296.6 136.7L299.1 136.7L301.6 136.8L304.1 136.8L306.6 136.9L309.1 136.9L311.6 137.0L314.1 137.0L316.6 137.1L319.1 137.1L321.6 137.1L324.1 137.1L326.6 137.1L329.1 137.1L331.6 137.1L334.1 137.1L336.6 137.1L339.1 137.1L341.6 137.1L344.1 137.1L346.6 137.1L349.1 137.1L351.6 137.1L354.1 137.1L356.6 137.2L359.1 137.2L361.6 137.2L364.1 137.3L366.6 137.3L369.1 137.4L371.6 137.4L374.1 137.5L376.6 137.6L379.1 137.7L381.6 137.7L384.1 137.8L386.6 137.9L389.1 138.0L391.6 138.0L394.1 138.1L396.6 138.2L399.1 138.2L401.6 138.3L404.1 138.3L406.6 138.4L409.1 138.4L411.6 138.5L414.1 138.5L416.6 138.6L419.1 138.6L421.6 138.7L424.1 138.7L426.6 138.8L429.1 138.8L431.6 138.9L434.1 138.9L436.6 138.9L439.1 139.0L441.6 139.0L444.1 139.1L446.6 139.1L449.1 139.2L451.6 139.2L454.1 139.3L456.6 139.3L459.1 139.4L461.6 139.4L464.1 139.5L466.6 139.5L469.1 139.6L471.6 139.6L474.1 139.7L476.6 139.7L479.1 139.8L481.6 139.9L484.1 139.9L486.6 140.0L489.1 140.0L491.6 140.1L494.1 140.1L496.6 140.2L499.1 140.2L501.6 140.2L504.1 140.2L506.6 140.3L509.1 140.3L511.6 140.3L514.1 140.3L516.6 140.3L519.1 140.3L521.6 140.3L524.1 140.3L526.6 140.3L529.1 140.4L531.6 140.4L534.1 140.4L536.7 140.4L539.2 140.4L541.7 140.4L544.2 140.4L546.7 140.4L549.2 140.5L551.7 140.5L554.2 140.5L556.7 140.5L559.2 140.5L561.7 140.5L564.2 140.6L566.7 140.6L569.2 140.6L571.7 140.6L574.2 140.6L576.7 140.7L579.2 140.7L581.7 140.7L584.2 140.7L586.7 140.8L589.2 140.8L591.7 140.8L594.2 140.8L596.7 140.9L599.2 140.9L601.7 140.9L604.2 141.0L606.7 141.0L609.2 141.0L611.7 141.1L614.2 141.1L616.7 141.2L619.2 141.2L621.7 141.2L624.2 141.3L626.7 141.3L629.2 141.4L631.7 141.4L634.2 141.5L636.7 141.6L639.2 141.6L641.7 141.7L644.2 141.8L646.7 141.9L649.2 142.0L651.7 142.1L654.2 142.2L656.7 142.3L659.2 142.5L661.7 142.6L664.2 142.8L666.7 142.9L669.2 143.1L671.7 143.2L674.2 143.4L676.7 143.6L679.1 143.8L681.6 144.1L684.1 144.4L686.6 144.7L689.1 145.1L691.5 145.4L694.0 145.8L696.5 146.2L699.0 146.6L701.4 147.0L703.9 147.4L706.3 147.9L708.8 148.4L711.3 148.9L713.7 149.4L716.1 149.9L718.6 150.5L721.0 151.1L723.4 151.7L725.8 152.4L728.3 153.0L730.7 153.7L733.1 154.4L735.5 155.1L737.9 155.8L740.3 156.5L742.7 157.2L745.1 157.8L747.5 158.5L749.9 159.0L752.4 159.6L754.8 160.0L757.3 160.5L759.8 160.9L762.2 161.4L764.7 161.7L767.2 162.1L769.7 162.4L772.2 162.6L774.6 163.0L777.1 163.4L779.5 163.9L782.0 164.4L784.4 164.9L786.9 165.4L789.4 165.9L791.8 166.4L794.3 166.8L796.7 167.2L799.2 167.7L801.6 168.3L804.0 168.9L806.5 169.5L808.9 170.1L811.3 170.7L813.7 171.3L816.2 172.0L818.6 172.6L821.0 173.2L823.4 173.9L825.8 174.7L828.2 175.5L830.5 176.4L832.8 177.3L835.1 178.3L837.4 179.3L839.6 180.4L841.8 181.6L844.0 182.8L846.2 184.1L848.3 185.5L850.3 186.9L852.4 188.3L854.3 189.9L856.2 191.5L858.1 193.2L859.9 194.9L861.7 196.7L863.4 198.5L865.0 200.4L866.6 202.3L868.1 204.3L869.6 206.3L871.0 208.4L872.4 210.5L873.7 212.6L875.0 214.7L876.3 216.9L877.5 219.1L878.7 221.3L879.9 223.5L881.1 225.7L882.2 227.9L883.4 230.1L884.5 232.4L885.6 234.6L886.7 236.9L887.8 239.1L888.9 241.3L890.0 243.6L891.1 245.8L892.3 248.0L893.5 250.2L894.8 252.4L896.0 254.5L897.3 256.7L898.7 258.8L900.1 260.9L901.5 262.9L903.0 264.9L904.5 266.9L906.1 268.9L907.7 270.8L909.4 272.6L911.1 274.4L913.0 276.0L915.0 277.5L917.0 279.0L919.1 280.4L921.2 281.7L923.4 283.0L925.6 284.1L927.9 285.2L930.1 286.2L932.5 287.1L934.8 288.0L937.2 288.7L939.6 289.4L942.0 290.1L944.4 290.8L946.8 291.5L949.2 292.1L951.7 292.7L954.1 293.3L956.5 293.9L959.0 294.5L961.4 295.0L963.9 295.5L966.3 296.1L968.8 296.6L971.2 297.1L973.6 297.6L976.1 298.1L978.5 298.6L981.0 299.1L983.5 299.5L985.9 299.9L988.4 300.2L990.9 300.6L993.4 300.9L995.9 301.2L998.3 301.5L1000.8 301.9L1003.3 302.2L1005.8 302.5L1008.3 302.8L1010.7 303.1L1013.2 303.4L1015.7 303.7L1018.2 304.0L1020.7 304.3L1023.2 304.6L1025.6 304.9L1028.1 305.2L1030.6 305.5L1033.1 305.8L1035.6 306.1L1038.1 306.4L1040.6 306.6L1043.0 306.9L1045.5 307.1L1048.0 307.4L1050.5 307.6L1053.0 307.8L1055.5 308.0L1056.0 308.0" fill="none" stroke="#FFC000" stroke-width="4.9" stroke-linecap="round" stroke-linejoin="round"/>
<line x1="312.9" y1="55.2" x2="312.9" y2="578" stroke="#000" stroke-width="3.2" stroke-dasharray="9.7 3.48"/>
<line x1="676" y1="60.5" x2="676" y2="580.8" stroke="#000" stroke-width="3.2" stroke-dasharray="9.7 3.48"/>
<circle cx="205.7" cy="43.3" r="7.9" fill="#fff" stroke="#8a8a8a" stroke-width="2.8"/>
<circle cx="688.4" cy="43.3" r="7.9" fill="#fff" stroke="#8a8a8a" stroke-width="2.8"/>
<circle cx="1171.3" cy="43.3" r="7.9" fill="#fff" stroke="#8a8a8a" stroke-width="2.8"/>
<circle cx="205.7" cy="311.1" r="7.9" fill="#fff" stroke="#8a8a8a" stroke-width="2.8"/>
<circle cx="1171.3" cy="311.1" r="7.9" fill="#fff" stroke="#8a8a8a" stroke-width="2.8"/>
<circle cx="205.7" cy="577.8" r="7.9" fill="#fff" stroke="#8a8a8a" stroke-width="2.8"/>
<circle cx="688.4" cy="577.8" r="7.9" fill="#fff" stroke="#8a8a8a" stroke-width="2.8"/>
<circle cx="1171.3" cy="577.8" r="7.9" fill="#fff" stroke="#8a8a8a" stroke-width="2.8"/>
<line x1="31.4" y1="758.8" x2="100.8" y2="758.8" stroke="#C00000" stroke-width="4.6" stroke-linecap="round"/>
<line x1="204.3" y1="758.8" x2="273.7" y2="758.8" stroke="#7030A0" stroke-width="4.6" stroke-linecap="round"/>
<line x1="377.2" y1="758.8" x2="446.6" y2="758.8" stroke="#2E75B6" stroke-width="4.6" stroke-linecap="round"/>
<line x1="550.1" y1="758.8" x2="619.5" y2="758.8" stroke="#A5A01E" stroke-width="4.6" stroke-linecap="round"/>
<line x1="723.0" y1="758.8" x2="792.4" y2="758.8" stroke="#843C0C" stroke-width="4.6" stroke-linecap="round"/>
<line x1="895.9" y1="758.8" x2="965.3" y2="758.8" stroke="#3B3838" stroke-width="4.6" stroke-linecap="round"/>
<line x1="1068.8" y1="758.8" x2="1138.2" y2="758.8" stroke="#FFC000" stroke-width="4.6" stroke-linecap="round"/>
</svg>
<div id="txt">
<div class="yl" style="top:557.2px">0</div>
<div class="yl" style="top:468.3px">20</div>
<div class="yl" style="top:379.3px">40</div>
<div class="yl" style="top:290.4px">60</div>
<div class="yl" style="top:201.5px">80</div>
<div class="yl" style="top:112.5px">100</div>
<div class="yl" style="top:23.6px">120</div>
<div class="xl" style="left:155.9px">0</div>
<div class="xl" style="left:263.1px">100</div>
<div class="xl" style="left:370.2px">200</div>
<div class="xl" style="left:477.4px">300</div>
<div class="xl" style="left:584.5px">400</div>
<div class="xl" style="left:691.6px">500</div>
<div class="xl" style="left:798.8px">600</div>
<div class="xl" style="left:905.9px">700</div>
<div class="xl" style="left:1013.1px">800</div>
<div class="xl" style="left:1120.2px">900</div>
<div class="lg" style="left:107.5px">M1</div>
<div class="lg" style="left:280.4px">M2</div>
<div class="lg" style="left:453.3px">M3</div>
<div class="lg" style="left:626.2px">M4</div>
<div class="lg" style="left:799.1px">M5</div>
<div class="lg" style="left:972.0px">M6</div>
<div class="lg" style="left:1144.9px">M7</div>
<div class="xt">Temperature (<sup class="o">o</sup>C)</div>
<div class="yt">Percentage (%)</div>
</div>
</body></html>
